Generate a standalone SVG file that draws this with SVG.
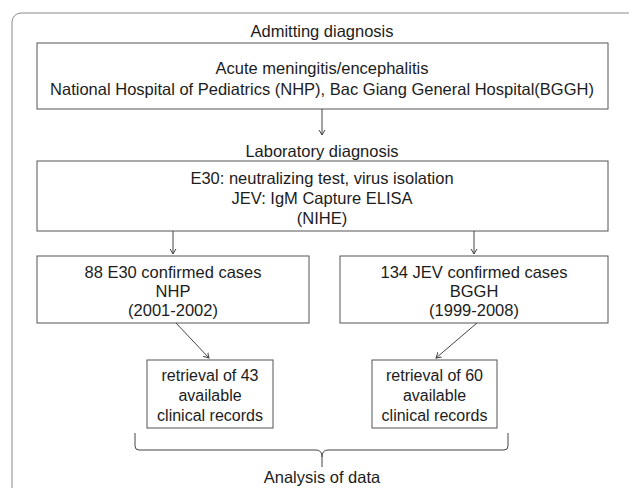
<svg xmlns="http://www.w3.org/2000/svg" width="629" height="488" viewBox="0 0 629 488">
<style>
text{font-family:"Liberation Sans",Arial,Helvetica,sans-serif;font-size:16.5px;fill:#1c1c1c;text-anchor:middle}
.sm{font-size:16px}
.box{fill:#fff;stroke:#555;stroke-width:1}
.con{fill:none;stroke:#444;stroke-width:1}
</style>
<defs>
<marker id="ah" markerWidth="10" markerHeight="10" refX="0" refY="0" viewBox="-5 -5 10 10" orient="auto" markerUnits="userSpaceOnUse">
<path d="M-6,-3.5 L0,0 L-6,3.5" fill="none" stroke="#444" stroke-width="1"/>
</marker>
</defs>
<rect width="629" height="488" fill="#fff"/>
<rect x="12" y="13" width="660" height="520" rx="9" fill="none" stroke="#8a8a8a" stroke-width="1"/>
<text x="322" y="37">Admitting diagnosis</text>
<g id="n1">
<rect class="box" x="37" y="43" width="571" height="66"/>
<text x="322" y="74">Acute meningitis/encephalitis</text>
<text x="322" y="95">National Hospital of Pediatrics (NHP), Bac Giang General Hospital(BGGH)</text>
</g>
<text x="322" y="157">Laboratory diagnosis</text>
<g id="n2">
<rect class="box" x="37" y="161" width="571" height="70"/>
<text x="322" y="184">E30: neutralizing test, virus isolation</text>
<text x="322" y="204">JEV: IgM Capture ELISA</text>
<text x="322" y="224">(NIHE)</text>
</g>
<g id="n3">
<rect class="box" x="37" y="256" width="272" height="67"/>
<text x="173" y="278">88 E30 confirmed cases</text>
<text x="173" y="297">NHP</text>
<text x="173" y="316">(2001-2002)</text>
</g>
<g id="n4">
<rect class="box" x="340" y="256" width="268" height="67"/>
<text x="474" y="278">134 JEV confirmed cases</text>
<text x="474" y="297">BGGH</text>
<text x="474" y="316">(1999-2008)</text>
</g>
<g id="n5">
<rect class="box" x="147" y="360" width="126" height="68"/>
<text class="sm" x="210" y="381">retrieval of 43</text>
<text class="sm" x="210" y="401">available</text>
<text class="sm" x="210" y="421">clinical records</text>
</g>
<g id="n6">
<rect class="box" x="372" y="360" width="125" height="68"/>
<text class="sm" x="434.5" y="381">retrieval of 60</text>
<text class="sm" x="434.5" y="401">available</text>
<text class="sm" x="434.5" y="421">clinical records</text>
</g>
<g id="n7">
<text x="322" y="483">Analysis of data</text>
</g>
<g id="connectors">
<line class="con" x1="322" y1="109" x2="322" y2="135" marker-end="url(#ah)"/>
<line class="con" x1="173" y1="231" x2="173" y2="254" marker-end="url(#ah)"/>
<line class="con" x1="474" y1="231" x2="474" y2="254" marker-end="url(#ah)"/>
<line class="con" x1="176" y1="323" x2="209" y2="358" marker-end="url(#ah)"/>
<line class="con" x1="477" y1="323" x2="436" y2="358" marker-end="url(#ah)"/>
<path class="con" d="M135,433 V446 Q135,450 139,450 H316 Q322,450 322,457 V467 M322,457 Q322,450 328,450 H504 Q508,450 508,446 V433"/>
</g>
</svg>
